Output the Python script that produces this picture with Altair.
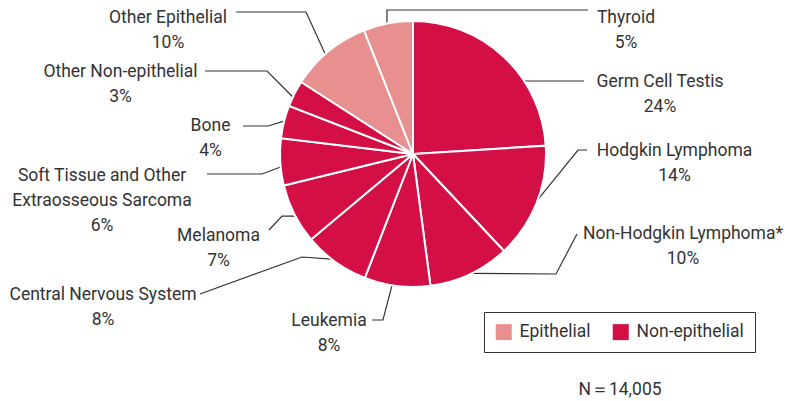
import math
import altair as alt
import pandas as pd

# ---------------- data ----------------
names = ["Germ Cell Testis", "Hodgkin Lymphoma", "Non-Hodgkin Lymphoma*", "Leukemia",
         "Central Nervous System", "Melanoma", "Soft Tissue and Other\nExtraosseous Sarcoma",
         "Bone", "Other Non-epithelial", "Other Epithelial", "Thyroid"]
groups = ["Non-epithelial"] * 9 + ["Epithelial"] * 2
shares = [24.0, 14.0, 9.9, 8.0, 8.0, 7.3, 5.7, 4.0, 3.2, 9.9, 6.0]   # slice sizes
pct_labels = ["24%", "14%", "10%", "8%", "8%", "7%", "6%", "4%", "3%", "10%", "5%"]
n_note = "N\uff1d14,005"

# ---------------- layout (page pixels) ----------------
CX, CY, R = 413, 154, 133
label_x = [660, 674.5, 683, 329, 103, 218.5, 102, 210.5, 120.5, 168, 626]
label_y = [87, 156, 239, 326, 300, 240.5, 181, 130.5, 77, 22.5, 22.5]
anchor_deg = [56.7, 109.9, 153.8, 189.1, 217.8, 242.2, 264.4, 284.3, 295.4, 318.7, 348.7]
elbow_x = [524, 578, 556, 383, 302, 282, 262, 268, 267, 306, 387]
elbow_y = [81, 150, 274, 320, 257, 216, 174, 126, 71, 12, 10]
end_x = [584, 587, 577, 372, 200, 269, 207, 243, 205, 236, 588]
end_y = [81, 150, 234, 320, 294, 230, 174, 126, 71, 12, 10]
note_x, note_y = 620, 395

FONT = "Roboto, Liberation Sans, sans-serif"
FS = 17.5
TXT = "#333333"
COL_EPI = "#E8908F"
COL_NON = "#D30F45"

W, H = 777, 390
xs = alt.Scale(domain=[8, 8 + W])
ys = alt.Scale(domain=[8, 8 + H], reverse=True)

pie_df = pd.DataFrame({
    "name": names, "group": groups, "share": shares,
    "idx": list(range(len(names))), "cx": CX, "cy": CY,
})

lab_df = pd.DataFrame({
    "text": [n + "\n" + p for n, p in zip(names, pct_labels)],
    "x": label_x, "y": label_y,
})

rows = []
for i, nm in enumerate(names):
    a = math.radians(anchor_deg[i])
    rx = CX + R * math.sin(a)
    ry = CY - R * math.cos(a)
    rows.append({"name": nm, "k": 0, "x": rx, "y": ry})
    rows.append({"name": nm, "k": 1, "x": elbow_x[i], "y": elbow_y[i]})
    rows.append({"name": nm, "k": 2, "x": end_x[i], "y": end_y[i]})
lead_df = pd.DataFrame(rows)

note_df = pd.DataFrame({"text": [n_note], "x": [note_x], "y": [note_y]})

pie = alt.Chart(pie_df).mark_arc(radius=R, stroke="white", strokeWidth=2).encode(
    theta=alt.Theta("share:Q", stack=True),
    order=alt.Order("idx:Q"),
    x=alt.X("cx:Q", scale=xs, axis=None),
    y=alt.Y("cy:Q", scale=ys, axis=None),
    color=alt.Color(
        "group:N",
        scale=alt.Scale(domain=["Epithelial", "Non-epithelial"], range=[COL_EPI, COL_NON]),
        legend=alt.Legend(
            title=None, orient="none", legendX=476, legendY=304, direction="horizontal",
            symbolType="square", symbolSize=256, symbolStrokeWidth=0, symbolOpacity=1,
            labelFont=FONT, labelFontSize=FS, labelColor=TXT, labelOffset=7,
            columnPadding=21, padding=11, strokeColor="#333333", fillColor="white",
        ),
    ),
)

leaders = alt.Chart(lead_df).mark_line(color="#333333", strokeWidth=1.2).encode(
    x=alt.X("x:Q", scale=xs, axis=None),
    y=alt.Y("y:Q", scale=ys, axis=None),
    detail="name:N",
    order="k:Q",
)

labels = alt.Chart(lab_df).mark_text(
    align="center", baseline="alphabetic", lineBreak="\n", lineHeight=25,
    font=FONT, fontSize=FS, color=TXT,
).encode(
    x=alt.X("x:Q", scale=xs, axis=None),
    y=alt.Y("y:Q", scale=ys, axis=None),
    text="text:N",
)

note = alt.Chart(note_df).mark_text(
    align="center", baseline="alphabetic", font=FONT, fontSize=FS, color=TXT,
).encode(
    x=alt.X("x:Q", scale=xs, axis=None),
    y=alt.Y("y:Q", scale=ys, axis=None),
    text="text:N",
)

chart = alt.layer(leaders, pie, labels, note).properties(
    width=W, height=H, padding=0, autosize=alt.AutoSizeParams(type="none"),
).configure_view(stroke=None)

chart.save("out.html", embed_options={"renderer": "svg", "actions": False})
